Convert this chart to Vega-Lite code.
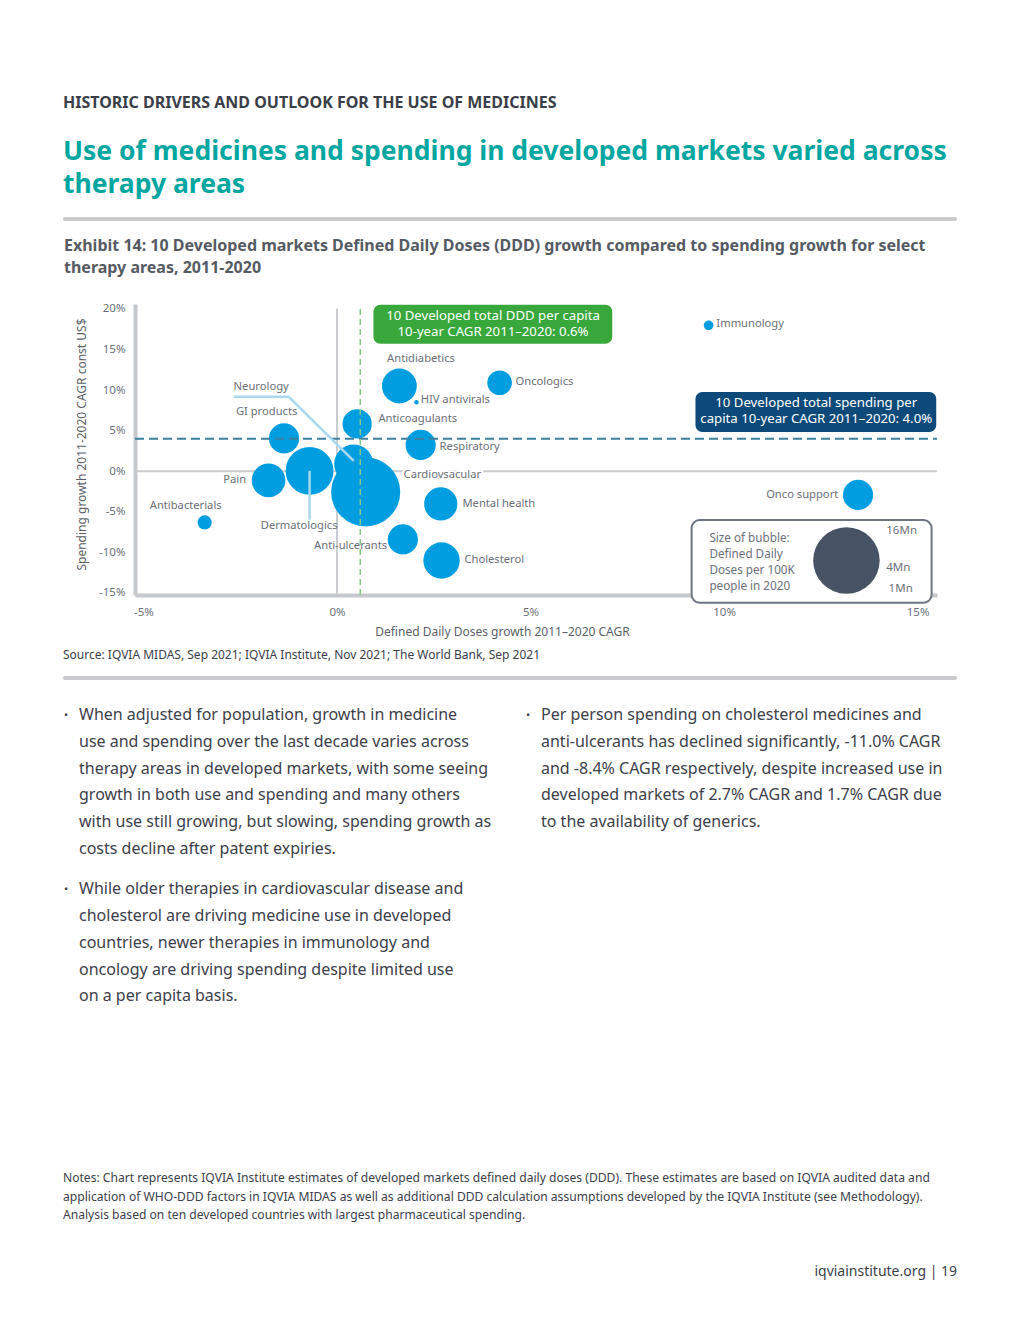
{
  "$schema": "https://vega.github.io/schema/vega-lite/v6.json",
  "background": "white",
  "padding": {"left": 63, "top": 94, "right": 63, "bottom": 40},
  "spacing": 0,
  "config": {
    "view": {"stroke": null},
    "font": "Noto Sans",
    "text": {"font": "Noto Sans"}
  },
  "title": {
    "text": "HISTORIC DRIVERS AND OUTLOOK FOR THE USE OF MEDICINES",
    "subtitle": ["Use of medicines and spending in developed markets varied across", "therapy areas"],
    "anchor": "start",
    "font": "Noto Sans", "fontSize": 16, "fontWeight": "bold", "color": "#3a3e48",
    "subtitleFont": "Noto Sans", "subtitleFontSize": 26.5, "subtitleFontWeight": "bold", "subtitleColor": "#00a6a0",
    "subtitleLineHeight": 33, "subtitlePadding": 28, "offset": 15
  },
  "datasets": {
    "bubbles": [
      {"area": "Antibacterials", "ddd_growth": -3.42, "spend_growth": -6.31, "doses_mn": 0.73},
      {"area": "Pain", "ddd_growth": -1.77, "spend_growth": -1.13, "doses_mn": 4.1},
      {"area": "GI products", "ddd_growth": -1.37, "spend_growth": 4.04, "doses_mn": 3.3},
      {"area": "Dermatologics", "ddd_growth": -0.71, "spend_growth": 0.04, "doses_mn": 8.3},
      {"area": "Neurology", "ddd_growth": 0.43, "spend_growth": 0.9, "doses_mn": 5.5},
      {"area": "Cardiovascular", "ddd_growth": 0.74, "spend_growth": -2.55, "doses_mn": 17.3},
      {"area": "Anticoagulants", "ddd_growth": 0.52, "spend_growth": 5.83, "doses_mn": 3.1},
      {"area": "Antidiabetics", "ddd_growth": 1.61, "spend_growth": 10.5, "doses_mn": 4.4},
      {"area": "HIV antivirals", "ddd_growth": 2.05, "spend_growth": 8.5, "doses_mn": 0.07},
      {"area": "Oncologics", "ddd_growth": 4.2, "spend_growth": 10.9, "doses_mn": 2.2},
      {"area": "Respiratory", "ddd_growth": 2.16, "spend_growth": 3.24, "doses_mn": 3.3},
      {"area": "Mental health", "ddd_growth": 2.68, "spend_growth": -4.03, "doses_mn": 4.0},
      {"area": "Anti-ulcerants", "ddd_growth": 1.7, "spend_growth": -8.4, "doses_mn": 3.3},
      {"area": "Cholesterol", "ddd_growth": 2.7, "spend_growth": -11.0, "doses_mn": 4.8},
      {"area": "Immunology", "ddd_growth": 9.6, "spend_growth": 17.97, "doses_mn": 0.34},
      {"area": "Onco support", "ddd_growth": 13.46, "spend_growth": -2.92, "doses_mn": 3.3}
    ],
    "labels": [
      {"label": "Antibacterials", "x": -3.91, "y": -4.28, "side": "center"},
      {"label": "Pain", "x": -2.35, "y": -1.07, "side": "right"},
      {"label": "GI products", "x": -1.82, "y": 7.31, "side": "center"},
      {"label": "Neurology", "x": -1.96, "y": 10.4, "side": "center"},
      {"label": "Dermatologics", "x": -0.98, "y": -6.74, "side": "center"},
      {"label": "Anti-ulcerants", "x": 0.35, "y": -9.2, "side": "center"},
      {"label": "Antidiabetics", "x": 2.17, "y": 13.84, "side": "center"},
      {"label": "HIV antivirals", "x": 2.16, "y": 8.79, "side": "left"},
      {"label": "Anticoagulants", "x": 1.07, "y": 6.45, "side": "left"},
      {"label": "Oncologics", "x": 4.61, "y": 11.0, "side": "left"},
      {"label": "Respiratory", "x": 2.65, "y": 2.99, "side": "left"},
      {"label": "Cardiovsacular", "x": 1.72, "y": -0.46, "side": "left"},
      {"label": "Mental health", "x": 3.24, "y": -4.0, "side": "left"},
      {"label": "Cholesterol", "x": 3.29, "y": -10.9, "side": "left"},
      {"label": "Immunology", "x": 9.8, "y": 18.15, "side": "left"},
      {"label": "Onco support", "x": 12.95, "y": -2.92, "side": "right"}
    ],
    "leaders": [
      {"leader": "Neurology", "step": 1, "x": -2.67, "y": 9.16},
      {"leader": "Neurology", "step": 2, "x": -1.25, "y": 9.16},
      {"leader": "Neurology", "step": 3, "x": 0.43, "y": 1.27},
      {"leader": "Dermatologics", "step": 1, "x": -0.71, "y": 0.04},
      {"leader": "Dermatologics", "step": 2, "x": -0.71, "y": -5.97}
    ],
    "refs": [
      {"ref": "zero_ddd", "x": 0, "x2": 0, "y": -15.25, "y2": 20},
      {"ref": "zero_spend", "x": -5.22, "x2": 15.5, "y": 0, "y2": 0},
      {"ref": "avg_spend", "x": -5.22, "x2": 15.5, "y": 4.0, "y2": 4.0},
      {"ref": "avg_ddd", "x": 0.6, "x2": 0.6, "y": -15.25, "y2": 20.3}
    ],
    "boxes": [
      {"box": "ddd", "x": 0.94, "x2": 7.11, "y": 20.5, "y2": 15.69, "cx": 4.03, "cy": 19.14, "text": "10 Developed total DDD per capita\n10-year CAGR 2011–2020: 0.6%"},
      {"box": "spend", "x": 9.26, "x2": 15.48, "y": 9.77, "y2": 4.84, "cx": 12.38, "cy": 8.42, "text": "10 Developed total spending per\ncapita 10-year CAGR 2011–2020: 4.0%"}
    ],
    "legendbox": [
      {"x": 9.16, "x2": 15.36, "y": -6.02, "y2": -16.2, "tx": 9.62, "ty": -8.22, "text": "Size of bubble:\nDefined Daily\nDoses per 100K\npeople in 2020", "bx": 13.16, "by": -10.99, "doses_mn": 16}
    ],
    "legendlabels": [
      {"label": "16Mn", "x": 14.19, "y": -7.36},
      {"label": "4Mn", "x": 14.19, "y": -11.9},
      {"label": "1Mn", "x": 14.25, "y": -14.5}
    ],
    "bullets": [
      {"col": "L", "line": 0, "text": "When adjusted for population, growth in medicine\nuse and spending over the last decade varies across\ntherapy areas in developed markets, with some seeing\ngrowth in both use and spending and many others\nwith use still growing, but slowing, spending growth as\ncosts decline after patent expiries."},
      {"col": "L", "line": 6.5, "text": "While older therapies in cardiovascular disease and\ncholesterol are driving medicine use in developed\ncountries, newer therapies in immunology and\noncology are driving spending despite limited use\non a per capita basis."},
      {"col": "R", "line": 0, "text": "Per person spending on cholesterol medicines and\nanti-ulcerants has declined significantly, -11.0% CAGR\nand -8.4% CAGR respectively, despite increased use in\ndeveloped markets of 2.7% CAGR and 1.7% CAGR due\nto the availability of generics."}
    ],
    "notes": [
      {"col": "left", "line": 0, "text": "Notes: Chart represents IQVIA Institute estimates of developed markets defined daily doses (DDD). These estimates are based on IQVIA audited data and\napplication of WHO-DDD factors in IQVIA MIDAS as well as additional DDD calculation assumptions developed by the IQVIA Institute (see Methodology).\nAnalysis based on ten developed countries with largest pharmaceutical spending."},
      {"col": "right", "line": 5.0, "text": "iqviainstitute.org  |  19"}
    ]
  },
  "vconcat": [
    {
      "width": 894, "height": 4,
      "view": {"fill": "#c9cacd", "cornerRadius": 2, "stroke": null},
      "data": {"values": [{}]},
      "mark": {"type": "text"},
      "encoding": {"text": {"value": ""}}
    },
    {
      "width": 894, "height": 13,
      "data": {"values": [{}]},
      "mark": {"type": "text"},
      "encoding": {"text": {"value": ""}}
    },
    {
      "spacing": 0,
      "hconcat": [
        {
          "width": 1, "height": 1,
          "data": {"values": [{}]},
          "mark": {"type": "text"},
          "encoding": {"text": {"value": ""}}
        },
        {
          "width": 802, "height": 291,
          "title": {
            "text": ["Exhibit 14: 10 Developed markets Defined Daily Doses (DDD) growth compared to spending growth for select", "therapy areas, 2011-2020"],
            "anchor": "start", "frame": "group", "dx": -71,
            "font": "Noto Sans", "fontSize": 16, "fontWeight": "bold", "color": "#555a63",
            "lineHeight": 22, "offset": 27
          },
          "layer": [
            {
              "data": {"name": "refs"},
              "transform": [{"filter": "datum.ref == 'zero_ddd'"}],
              "mark": {"type": "rule", "color": "#c9cbce", "strokeWidth": 2},
              "encoding": {
                "x": {"field": "x", "type": "quantitative", "scale": {"domain": [-5.22, 15.5], "nice": false, "zero": false},
                  "axis": {"values": [-5, 0, 5, 10, 15], "labelExpr": "datum.value + '%'", "grid": false, "ticks": false, "tickSize": 0,
                    "domainColor": "#c5c8cc", "domainWidth": 4, "labelColor": "#6c6f78", "labelFontSize": 11.5, "labelPadding": 11,
                    "labelFlush": false, "labelOverlap": false, "labelFont": "Noto Sans",
                    "title": "Defined Daily Doses growth 2011–2020 CAGR", "titleFont": "Noto Sans", "titleFontSize": 12, "titleFontWeight": "normal",
                    "titleColor": "#5b5f68", "titlePadding": 9, "titleX": 367}},
                "y": {"field": "y", "type": "quantitative", "scale": {"domain": [-15.25, 20.6], "nice": false, "zero": false},
                  "axis": {"values": [-15, -10, -5, 0, 5, 10, 15, 20], "labelExpr": "datum.value + '%'", "grid": false, "ticks": false, "tickSize": 0,
                    "domainColor": "#c5c8cc", "domainWidth": 4, "labelColor": "#6c6f78", "labelFontSize": 11.5, "labelPadding": 10,
                    "labelOverlap": false, "labelFont": "Noto Sans",
                    "title": "Spending growth 2011-2020 CAGR const US$", "titleFont": "Noto Sans", "titleFontSize": 12, "titleFontWeight": "normal",
                    "titleColor": "#5b5f68", "titlePadding": 10, "titleY": 140}},
                "y2": {"field": "y2"}
              }
            },
            {
              "data": {"name": "refs"},
              "transform": [{"filter": "datum.ref == 'zero_spend'"}],
              "mark": {"type": "rule", "color": "#c9cbce", "strokeWidth": 2},
              "encoding": {
                "x": {"field": "x", "type": "quantitative"},
                "x2": {"field": "x2"},
                "y": {"field": "y", "type": "quantitative"}
              }
            },
            {
              "data": {"name": "bubbles"},
              "mark": {"type": "circle", "color": "#009ee0", "opacity": 1},
              "encoding": {
                "x": {"field": "ddd_growth", "type": "quantitative"},
                "y": {"field": "spend_growth", "type": "quantitative"},
                "size": {"field": "doses_mn", "type": "quantitative", "scale": {"type": "linear", "domain": [0, 16], "range": [0, 4418]}, "legend": null}
              }
            },
            {
              "data": {"name": "labels"},
              "transform": [{"filter": "datum.side == 'left'"}],
              "mark": {"type": "text", "align": "left", "baseline": "middle", "font": "Noto Sans", "fontSize": 11.2, "color": "#6c6f78", "stroke": "white", "strokeWidth": 4},
              "encoding": {"x": {"field": "x", "type": "quantitative"}, "y": {"field": "y", "type": "quantitative"}, "text": {"field": "label"}}
            },
            {
              "data": {"name": "labels"},
              "transform": [{"filter": "datum.side == 'left'"}],
              "mark": {"type": "text", "align": "left", "baseline": "middle", "font": "Noto Sans", "fontSize": 11.2, "color": "#6c6f78"},
              "encoding": {"x": {"field": "x", "type": "quantitative"}, "y": {"field": "y", "type": "quantitative"}, "text": {"field": "label"}}
            },
            {
              "data": {"name": "labels"},
              "transform": [{"filter": "datum.side == 'center'"}],
              "mark": {"type": "text", "align": "center", "baseline": "middle", "font": "Noto Sans", "fontSize": 11.2, "color": "#6c6f78"},
              "encoding": {"x": {"field": "x", "type": "quantitative"}, "y": {"field": "y", "type": "quantitative"}, "text": {"field": "label"}}
            },
            {
              "data": {"name": "labels"},
              "transform": [{"filter": "datum.side == 'right'"}],
              "mark": {"type": "text", "align": "right", "baseline": "middle", "font": "Noto Sans", "fontSize": 11.2, "color": "#6c6f78"},
              "encoding": {"x": {"field": "x", "type": "quantitative"}, "y": {"field": "y", "type": "quantitative"}, "text": {"field": "label"}}
            },
            {
              "data": {"name": "refs"},
              "transform": [{"filter": "datum.ref == 'avg_spend'"}],
              "mark": {"type": "rule", "color": "#3d7f9e", "strokeWidth": 2, "strokeDash": [9, 5]},
              "encoding": {
                "x": {"field": "x", "type": "quantitative"},
                "x2": {"field": "x2"},
                "y": {"field": "y", "type": "quantitative"}
              }
            },
            {
              "data": {"name": "refs"},
              "transform": [{"filter": "datum.ref == 'avg_ddd'"}],
              "mark": {"type": "rule", "color": "#86c98a", "strokeWidth": 1.5, "strokeDash": [6, 4]},
              "encoding": {
                "x": {"field": "x", "type": "quantitative"},
                "y": {"field": "y", "type": "quantitative"},
                "y2": {"field": "y2"}
              }
            },
            {
              "data": {"name": "leaders"},
              "mark": {"type": "line", "color": "#a9d9f0", "strokeWidth": 2.5},
              "encoding": {
                "x": {"field": "x", "type": "quantitative"},
                "y": {"field": "y", "type": "quantitative"},
                "detail": {"field": "leader"},
                "order": {"field": "step"}
              }
            },
            {
              "data": {"name": "boxes"},
              "mark": {"type": "rect", "cornerRadius": 7},
              "encoding": {
                "x": {"field": "x", "type": "quantitative"},
                "x2": {"field": "x2"},
                "y": {"field": "y", "type": "quantitative"},
                "y2": {"field": "y2"},
                "color": {"field": "box", "type": "nominal", "scale": {"domain": ["ddd", "spend"], "range": ["#39a83c", "#0d4a79"]}, "legend": null}
              }
            },
            {
              "data": {"name": "boxes"},
              "mark": {"type": "text", "align": "center", "baseline": "middle", "lineBreak": "\n", "lineHeight": 16, "font": "Noto Sans", "fontSize": 13.2, "color": "white"},
              "encoding": {
                "x": {"field": "cx", "type": "quantitative"},
                "y": {"field": "cy", "type": "quantitative"},
                "text": {"field": "text"}
              }
            },
            {
              "data": {"name": "legendbox"},
              "mark": {"type": "rect", "cornerRadius": 8, "fill": "white", "stroke": "#6e7580", "strokeWidth": 2},
              "encoding": {
                "x": {"field": "x", "type": "quantitative"},
                "x2": {"field": "x2"},
                "y": {"field": "y", "type": "quantitative"},
                "y2": {"field": "y2"}
              }
            },
            {
              "data": {"name": "legendbox"},
              "mark": {"type": "text", "align": "left", "baseline": "middle", "lineBreak": "\n", "lineHeight": 16, "font": "Noto Sans", "fontSize": 11.7, "color": "#6c6f78"},
              "encoding": {
                "x": {"field": "tx", "type": "quantitative"},
                "y": {"field": "ty", "type": "quantitative"},
                "text": {"field": "text"}
              }
            },
            {
              "data": {"name": "legendbox"},
              "mark": {"type": "circle", "color": "#475264", "opacity": 1},
              "encoding": {
                "x": {"field": "bx", "type": "quantitative"},
                "y": {"field": "by", "type": "quantitative"},
                "size": {"field": "doses_mn", "type": "quantitative"}
              }
            },
            {
              "data": {"name": "legendlabels"},
              "mark": {"type": "text", "align": "left", "baseline": "middle", "font": "Noto Sans", "fontSize": 11.5, "color": "#6c6f78"},
              "encoding": {
                "x": {"field": "x", "type": "quantitative"},
                "y": {"field": "y", "type": "quantitative"},
                "text": {"field": "label"}
              }
            }
          ]
        }
      ]
    },
    {
      "width": 894, "height": 2,
      "data": {"values": [{}]},
      "mark": {"type": "text"},
      "encoding": {"text": {"value": ""}}
    },
    {
      "width": 894, "height": 4,
      "view": {"fill": "#c9cacd", "cornerRadius": 2, "stroke": null},
      "title": {"text": "Source: IQVIA MIDAS, Sep 2021; IQVIA Institute, Nov 2021; The World Bank, Sep 2021", "anchor": "start", "font": "Noto Sans", "fontSize": 12, "fontWeight": "normal", "color": "#3c404a", "offset": 10},
      "data": {"values": [{}]},
      "mark": {"type": "text"},
      "encoding": {"text": {"value": ""}}
    },
    {
      "width": 894, "height": 24,
      "data": {"values": [{}]},
      "mark": {"type": "text"},
      "encoding": {"text": {"value": ""}}
    },
    {
      "width": 494, "height": 268,
      "data": {"name": "bullets"},
      "encoding": {
        "x": {"field": "col", "type": "nominal", "scale": {"type": "point", "padding": 0.034632}, "axis": null},
        "y": {"field": "line", "type": "quantitative", "scale": {"domain": [0, 10], "reverse": true}, "axis": null}
      },
      "layer": [
        {
          "mark": {"type": "text", "align": "left", "baseline": "top", "lineBreak": "\n", "lineHeight": 26.8, "font": "Noto Sans", "fontSize": 16, "color": "#3c404a"},
          "encoding": {"text": {"field": "text"}}
        },
        {
          "mark": {"type": "text", "align": "left", "baseline": "top", "dx": -15, "dy": 3, "font": "Noto Sans", "fontSize": 11, "color": "#3c404a"},
          "encoding": {"text": {"value": "•"}}
        }
      ]
    },
    {
      "width": 894, "height": 167,
      "data": {"values": [{}]},
      "mark": {"type": "text"},
      "encoding": {"text": {"value": ""}}
    },
    {
      "width": 894, "height": 93,
      "data": {"name": "notes"},
      "encoding": {
        "x": {"field": "col", "type": "nominal", "scale": {"type": "point", "padding": 0}, "axis": null},
        "y": {"field": "line", "type": "quantitative", "scale": {"domain": [0, 5], "reverse": true}, "axis": null}
      },
      "layer": [
        {
          "transform": [{"filter": "datum.col == 'left'"}],
          "mark": {"type": "text", "align": "left", "baseline": "top", "lineBreak": "\n", "lineHeight": 18.5, "font": "Noto Sans", "fontSize": 12.1, "color": "#3c404a"},
          "encoding": {"text": {"field": "text"}}
        },
        {
          "transform": [{"filter": "datum.col == 'right'"}],
          "mark": {"type": "text", "align": "right", "baseline": "top", "font": "Noto Sans", "fontSize": 14, "color": "#3c404a"},
          "encoding": {"text": {"field": "text"}}
        }
      ]
    }
  ]
}
